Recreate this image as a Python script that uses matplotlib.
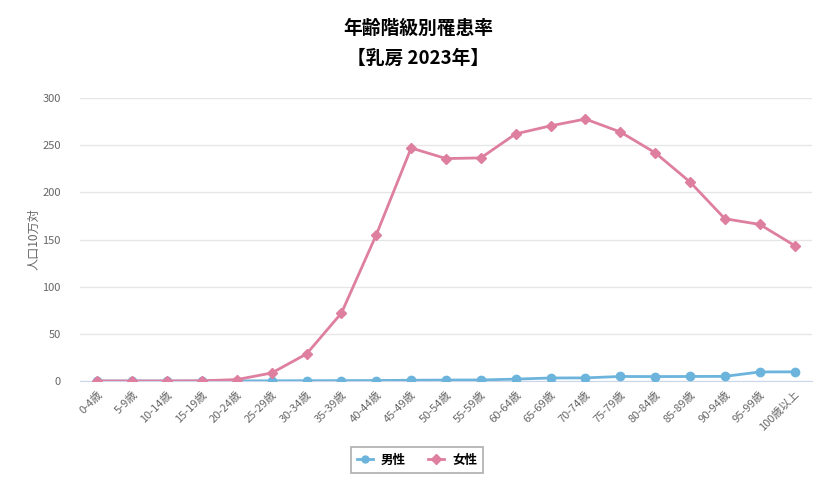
import matplotlib
matplotlib.use('Agg')
from matplotlib import pyplot as plt
import numpy as np

plt.rcParams['font.family'] = ['Noto Sans CJK JP', 'DejaVu Sans']

# age groups and rates per 100k
ages = ['0-4歳', '5-9歳', '10-14歳', '15-19歳', '20-24歳', '25-29歳', '30-34歳',
        '35-39歳', '40-44歳', '45-49歳', '50-54歳', '55-59歳', '60-64歳', '65-69歳',
        '70-74歳', '75-79歳', '80-84歳', '85-89歳', '90-94歳', '95-99歳', '100歳以上']
male = [0.0, 0.0, 0.0, 0.0, 0.1, 0.2, 0.3, 0.4, 0.5, 0.8, 1.0, 1.1, 2.0, 3.2,
        3.3, 4.8, 4.7, 4.8, 4.9, 9.6, 9.7]
female = [0.0, 0.0, 0.0, 0.2, 1.5, 8.5, 28.7, 72.0, 155.0, 247.0, 235.8, 236.5,
          262.0, 270.5, 277.7, 264.0, 242.0, 211.0, 172.0, 166.0, 143.6]

male_col = '#6cb4dc'
female_col = '#de7fa0'
txt_col = '#666666'

fig = plt.figure(figsize=(8.37, 4.86), dpi=100)
ax = fig.add_axes([80/837, 1-381/486, (812-80)/837, (381-98)/486])
x = np.arange(len(ages))

ax.plot(x, male, color=male_col, lw=2, marker='o', ms=6, zorder=3, label='男性')
ax.plot(x, female, color=female_col, lw=2, marker='D', ms=5, zorder=4, label='女性')

ax.set_xlim(-0.5, len(ages)-0.5)
ax.set_ylim(0, 300)
ax.set_yticks(np.arange(0, 301, 50))
ax.set_xticks(x)
ax.set_xticklabels(ages, rotation=45, ha='right', rotation_mode='anchor', fontsize=8, color=txt_col)
ax.tick_params(axis='y', length=0, labelsize=8, labelcolor=txt_col, pad=14)
ax.tick_params(axis='x', length=0, pad=6)
ax.grid(axis='y', color='#e6e6e6', lw=1)
ax.set_axisbelow(True)
for s in ['top', 'right', 'left']:
    ax.spines[s].set_visible(False)
ax.spines['bottom'].set_color('#ccd6eb')
ax.set_ylabel('人口10万対', fontsize=8.7, color=txt_col, labelpad=1)

fig.text(0.5, 1-28/486, '年齢階級別罹患率', ha='center', va='center', fontsize=13.5, fontweight='bold')
fig.text(0.5, 1-58/486, '【乳房 2023年】', ha='center', va='center', fontsize=13.5, fontweight='bold')

leg = fig.legend(loc='center', bbox_to_anchor=(417/837, 1-460/486), ncol=2, frameon=True,
                 fancybox=False, edgecolor='#999999', prop={'weight': 'bold', 'size': 9},
                 handlelength=1.3, handletextpad=0.6, columnspacing=1.8, borderpad=0.5)
leg.get_frame().set_linewidth(1.2)
for h in leg.legend_handles:
    h.set_markersize(5)

fig.savefig('out.png', dpi=100)
